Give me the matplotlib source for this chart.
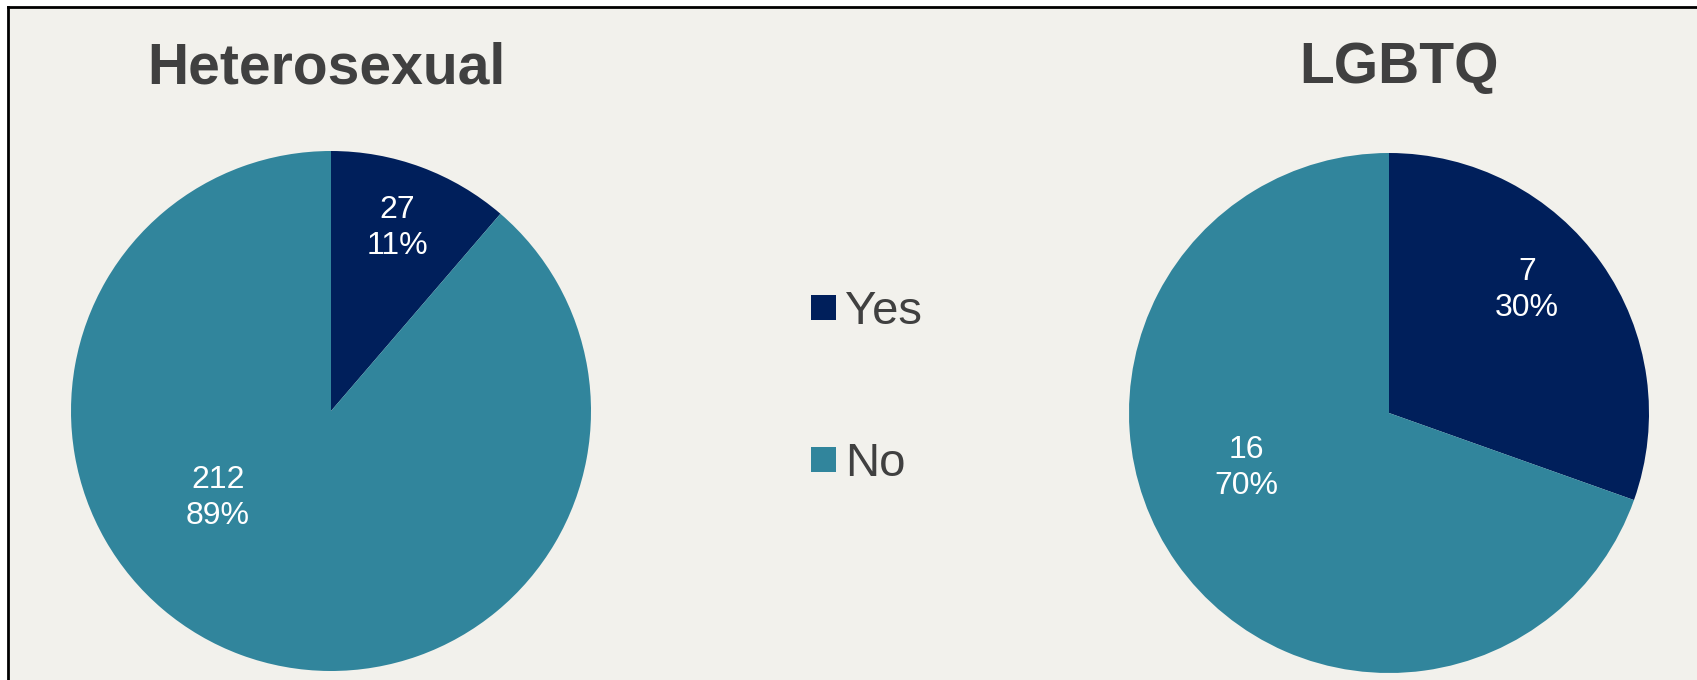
import matplotlib
matplotlib.use('Agg')
from matplotlib import pyplot as plt
from matplotlib.patches import Rectangle
from matplotlib.lines import Line2D

plt.rcParams['font.family'] = ['Liberation Sans', 'DejaVu Sans']

# data
groups = ['Heterosexual', 'LGBTQ']
answers = ['Yes', 'No']
hetero_counts = [27, 212]
lgbtq_counts = [7, 16]

# style
colors = ['#001F5B', '#31859C']
bg = '#F2F1EC'
text_col = '#404040'
W, H = 1697, 680

fig = plt.figure(figsize=(W / 100, H / 100), dpi=100)
fig.patch.set_facecolor('white')

# chart area background with left/top frame line (behind the axes)
fig.patches.append(Rectangle((8 / W, 0), 1, 1 - 7 / H, transform=fig.transFigure,
                             facecolor=bg, edgecolor='none', zorder=-5))
fig.lines.append(Line2D([8 / W, 8 / W], [0, 1 - 7 / H], transform=fig.transFigure,
                        color='black', lw=2))
fig.lines.append(Line2D([8 / W, 1], [1 - 7 / H, 1 - 7 / H], transform=fig.transFigure,
                        color='black', lw=2))


def draw_pie(cx, cy, r, counts, title, label_pos, title_x):
    ax = fig.add_axes([(cx - r) / W, (H - cy - r) / H, 2 * r / W, 2 * r / H])
    ax.pie(counts, colors=colors, startangle=90, counterclock=False, radius=1,
           wedgeprops=dict(linewidth=0))
    ax.set_xlim(-1, 1)
    ax.set_ylim(-1, 1)
    ax.set_aspect('auto')
    ax.axis('off')
    total = sum(counts)
    for c, (lx, ly) in zip(counts, label_pos):
        ax.text(lx, ly, '%d\n%d%%' % (c, round(100 * c / total)), color='white',
                fontsize=23, ha='center', va='center', linespacing=1.28)
    fig.text(title_x / W, 1 - 83.5 / H, title, fontsize=41, fontweight='bold',
             color=text_col, ha='center', va='baseline')


draw_pie(331, 411, 260, hetero_counts, groups[0],
         [(0.254, 0.704), (-0.435, -0.335)], 326)
draw_pie(1389, 413, 260, lgbtq_counts, groups[1],
         [(0.531, 0.473), (-0.55, -0.212)], 1399)

# legend
leg_sq_top = [295, 447]
leg_base = [324, 476]
for name, col, top, base in zip(answers, colors, leg_sq_top, leg_base):
    fig.patches.append(Rectangle((811 / W, 1 - (top + 25) / H), 25 / W, 25 / H,
                                 transform=fig.transFigure, facecolor=col,
                                 edgecolor='none'))
    fig.text(845 / W, 1 - base / H, name, fontsize=34, color=text_col,
             ha='left', va='baseline')

plt.savefig('out.png', dpi=100, facecolor=fig.get_facecolor())
